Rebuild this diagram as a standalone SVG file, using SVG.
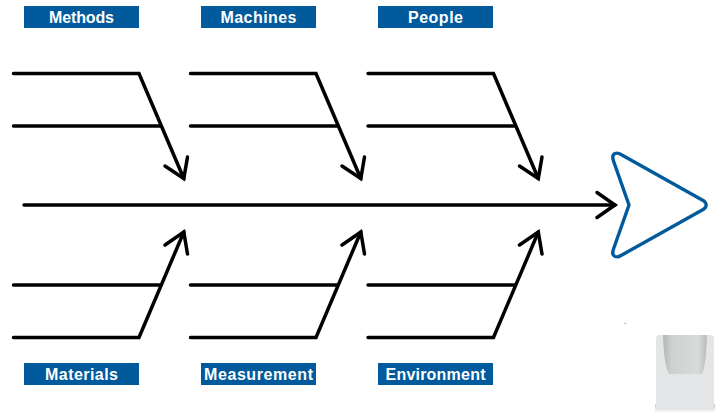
<svg xmlns="http://www.w3.org/2000/svg" width="721" height="420" viewBox="0 0 721 420">
<defs>
<linearGradient id="cup" x1="0" x2="1" y1="0" y2="0"><stop offset="0" stop-color="#b4b5b5"/><stop offset="0.2" stop-color="#cfd0d0"/><stop offset="0.8" stop-color="#d8d9d9"/><stop offset="1" stop-color="#b8b9b9"/></linearGradient>
<linearGradient id="base" x1="0" x2="0" y1="0" y2="1"><stop offset="0" stop-color="#c6c6c6"/><stop offset="1" stop-color="#ffffff"/></linearGradient>
<g id="top" class="c"><path d="M13.500 73.500H139L183.800 178.500"/><path d="M13.500 126H160"/><path d="M165 166L183.800 178.500L187.500 157"/></g>
<g id="bot" class="c"><path d="M13.500 337.500H139L183.800 232"/><path d="M13.500 285H160"/><path d="M165 245L183.800 232L187.500 254"/></g>
</defs>
<style>
.c path,.c{fill:none;stroke:#000;stroke-width:3.500;stroke-linecap:round;stroke-linejoin:miter}
.b{fill:#005a9c}
.t{fill:#fff;font:bold 16px "Liberation Sans",Arial,sans-serif;text-anchor:middle}
</style>
<rect width="721" height="420" fill="#fff"/>
<g id="connectors">
<use href="#top"/><use href="#top" x="177"/><use href="#top" x="354.500"/>
<use href="#bot"/><use href="#bot" x="177"/><use href="#bot" x="354.500"/>
<g class="c"><path d="M24 205H615"/><path d="M597 192.500L615 205L597 217.500"/></g>
</g>
<g id="methods"><rect class="b" x="24" y="6" width="115" height="22"/><text class="t" x="81.500" y="23" textLength="65">Methods</text></g>
<g id="machines"><rect class="b" x="201" y="6" width="115" height="22"/><text class="t" x="258.500" y="23" textLength="76">Machines</text></g>
<g id="people"><rect class="b" x="378" y="6" width="115" height="22"/><text class="t" x="435.500" y="23" textLength="55">People</text></g>
<g id="materials"><rect class="b" x="24" y="363" width="115" height="22"/><text class="t" x="81.500" y="380" textLength="73">Materials</text></g>
<g id="measurement"><rect class="b" x="201" y="363" width="115" height="22"/><text class="t" x="258.500" y="380" textLength="109">Measurement</text></g>
<g id="environment"><rect class="b" x="378" y="363" width="115" height="22"/><text class="t" x="435.500" y="380" textLength="100">Environment</text></g>
<g id="head"><path d="M629 205L613.500 161Q611.500 155 615 153.500Q618 152.500 621 154.500L704 201Q708.500 205 704 209L621 255.500Q618 257.500 615 256.500Q611.500 255 613.500 249Z" fill="#fff" stroke="#005a9c" stroke-width="3.400" stroke-linejoin="round"/></g>
<g id="holder">
<rect x="655" y="404" width="60" height="9" fill="url(#base)"/>
<rect x="656" y="335" width="58" height="74" rx="4" fill="#e4e5e6"/>
<path d="M663 335H707Q706 365 702 374H669Q664 365 663 335Z" fill="url(#cup)"/>
<rect x="624.500" y="323" width="1.500" height="1" fill="#999"/>
</g>
</svg>
